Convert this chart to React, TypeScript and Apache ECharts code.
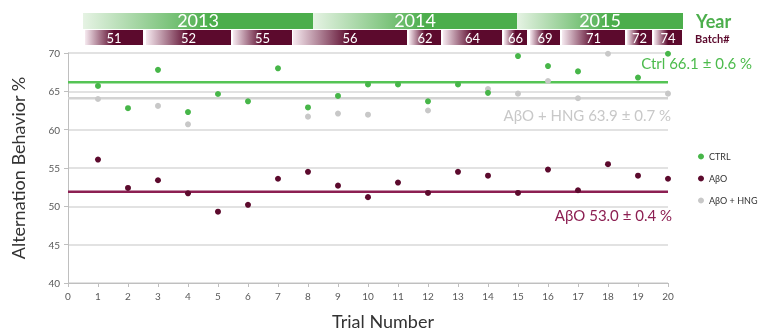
import React, { useEffect, useRef } from "react";
import * as echarts from "echarts";

// ---- data ----
const trials = [1, 2, 3, 4, 5, 6, 7, 8, 9, 10, 11, 12, 13, 14, 15, 16, 17, 18, 19, 20];
const ctrl = [65.7, 62.8, 67.8, 62.3, 64.65, 63.7, 68.0, 62.9, 64.4, 65.9, 65.9, 63.7, 65.9, 64.8, 69.6, 68.3, 67.6, null, 66.8, 69.9];
const abo = [56.1, 52.4, 53.4, 51.7, 49.3, 50.2, 53.6, 54.5, 52.7, 51.2, 53.1, 51.75, 54.5, 54.0, 51.75, 54.8, 52.1, 55.5, 54.0, 53.6];
const aboHng = [64.0, null, 63.1, 60.7, null, null, null, 61.7, 62.1, 61.95, null, 62.5, null, 65.3, 64.7, 66.35, 64.1, 69.9, null, 64.7];
const meanValues = { ctrl: 66.2, hng: 64.1, abo: 51.9 };
const meanLabels = ["Ctrl 66.1 \u00b1 0.6 %", "A\u03b2O + HNG 63.9 \u00b1 0.7 %", "A\u03b2O 53.0 \u00b1 0.4 %"];
const seriesNames = ["CTRL", "A\u03b2O", "A\u03b2O + HNG"];
const years = ["2013", "2014", "2015"];
const batches = ["51", "52", "55", "56", "62", "64", "66", "69", "71", "72", "74"];

// ---- layout (pixels) ----
const yearSpans = [[83, 313], [313, 517], [517, 683]];
const batchSpans = [[85, 143], [146, 231], [233, 292], [293, 407], [409, 441], [443, 502], [504, 527], [530, 560], [562, 625], [627, 652], [654, 682]];

const FONT = "Lato, 'Open Sans', sans-serif";
const GREEN = "#4cae4c";
const GREEN_LIGHT = "#e6f3e4";
const MAROON = "#5c0a2d";
const MAROON_LIGHT = "#f6eaf0";

function pairs(vals: (number | null)[]) {
  const out: [number, number][] = [];
  vals.forEach((v, i) => {
    if (v !== null) out.push([trials[i], v]);
  });
  return out;
}

export default function App() {
  const ref = useRef<HTMLDivElement>(null);
  useEffect(() => {
    if (!ref.current) return;
    const chart = echarts.init(ref.current, null, { renderer: "svg" });

    const graphics: any[] = [];
    years.forEach((y, i) => {
      const [x0, x1] = yearSpans[i];
      graphics.push({
        type: "rect",
        shape: { x: x0, y: 13, width: x1 - x0, height: 16 },
        style: {
          fill: new echarts.graphic.LinearGradient(0, 0, 1, 0, [
            { offset: 0, color: GREEN_LIGHT },
            { offset: 0.55, color: GREEN },
            { offset: 1, color: GREEN },
          ]),
        },
      });
      graphics.push({
        type: "text",
        x: (x0 + x1) / 2,
        y: 20,
        style: { text: y, fill: "#ffffff", font: `18px ${FONT}`, align: "center", verticalAlign: "middle" },
      });
    });
    batches.forEach((b, i) => {
      const [x0, x1] = batchSpans[i];
      graphics.push({
        type: "rect",
        shape: { x: x0, y: 30, width: x1 - x0, height: 15 },
        style: {
          fill: new echarts.graphic.LinearGradient(0, 0, 1, 0, [
            { offset: 0, color: MAROON_LIGHT },
            { offset: 0.5, color: MAROON },
            { offset: 1, color: MAROON },
          ]),
        },
      });
      graphics.push({
        type: "text",
        x: (x0 + x1) / 2,
        y: 38,
        style: { text: b, fill: "#ffffff", font: `13px ${FONT}`, align: "center", verticalAlign: "middle" },
      });
    });
    graphics.push({
      type: "text", x: 696, y: 21,
      style: { text: "Year", fill: "#4cae4c", font: `bold 18px ${FONT}`, align: "left", verticalAlign: "middle" },
    });
    graphics.push({
      type: "text", x: 695, y: 38,
      style: { text: "Batch#", fill: MAROON, font: `bold 11px ${FONT}`, align: "left", verticalAlign: "middle" },
    });
    graphics.push({
      type: "text", x: 752, y: 63,
      style: { text: meanLabels[0], fill: "#4cbb4c", font: `15px ${FONT}`, align: "right", verticalAlign: "middle" },
    });
    graphics.push({
      type: "text", x: 671, y: 115,
      style: { text: meanLabels[1], fill: "#c8c8c8", font: `15px ${FONT}`, align: "right", verticalAlign: "middle" },
    });
    graphics.push({
      type: "text", x: 672, y: 215,
      style: { text: meanLabels[2], fill: "#8c1f52", font: `15px ${FONT}`, align: "right", verticalAlign: "middle" },
    });
    graphics.push({
      type: "text", x: 383, y: 321,
      style: { text: "Trial Number", fill: "#333333", font: `18px ${FONT}`, align: "center", verticalAlign: "middle" },
    });
    graphics.push({
      type: "text", x: 18, y: 168, rotation: Math.PI / 2,
      style: { text: "Alternation Behavior %", fill: "#333333", font: `18px ${FONT}`, align: "center", verticalAlign: "middle" },
    });

    const meanLine = (v: number, color: string, width: number) => ({
      type: "line",
      data: [[0, v], [20, v]],
      symbol: "none",
      silent: true,
      lineStyle: { color, width },
      z: 1,
    });

    chart.setOption({
      animation: false,
      textStyle: { fontFamily: FONT },
      grid: { left: 68, right: 90, top: 53, bottom: 48, containLabel: false },
      legend: {
        orient: "vertical",
        left: 693,
        top: 147,
        icon: "circle",
        itemWidth: 6,
        itemHeight: 6,
        itemGap: 13,
        data: seriesNames,
        textStyle: { fontSize: 9, color: "#333333", fontFamily: FONT },
      },
      xAxis: {
        type: "value",
        min: 0,
        max: 20,
        interval: 1,
        axisLine: { show: true, lineStyle: { color: "#bfbfbf" } },
        axisTick: { show: true, length: 4, lineStyle: { color: "#bfbfbf" } },
        axisLabel: { color: "#595959", fontSize: 10, margin: 8 },
        splitLine: { show: false },
      },
      yAxis: {
        type: "value",
        min: 40,
        max: 70,
        interval: 5,
        axisLine: { show: true, lineStyle: { color: "#bfbfbf" } },
        axisTick: { show: true, length: 4, lineStyle: { color: "#bfbfbf" } },
        axisLabel: { color: "#595959", fontSize: 10, margin: 8 },
        splitLine: { show: true, lineStyle: { color: "#d9d9d9", width: 1.5 } },
      },
      series: [
        meanLine(meanValues.hng, "#d3d3d3", 2.5),
        meanLine(meanValues.ctrl, "#55c455", 2.5),
        meanLine(meanValues.abo, "#8c1f52", 2.5),
        { name: seriesNames[2], type: "scatter", data: pairs(aboHng), symbolSize: 6, itemStyle: { color: "#c8c8c8", opacity: 1 }, z: 2 },
        { name: seriesNames[1], type: "scatter", data: pairs(abo), symbolSize: 6, itemStyle: { color: MAROON, opacity: 1 }, z: 3 },
        { name: seriesNames[0], type: "scatter", data: pairs(ctrl), symbolSize: 6, itemStyle: { color: "#47b649", opacity: 1 }, z: 4 },
      ],
      graphic: graphics,
    });
    return () => chart.dispose();
  }, []);
  return <div ref={ref} style={{ position: "fixed", left: 0, top: 0, width: 758, height: 331 }} />;
}
